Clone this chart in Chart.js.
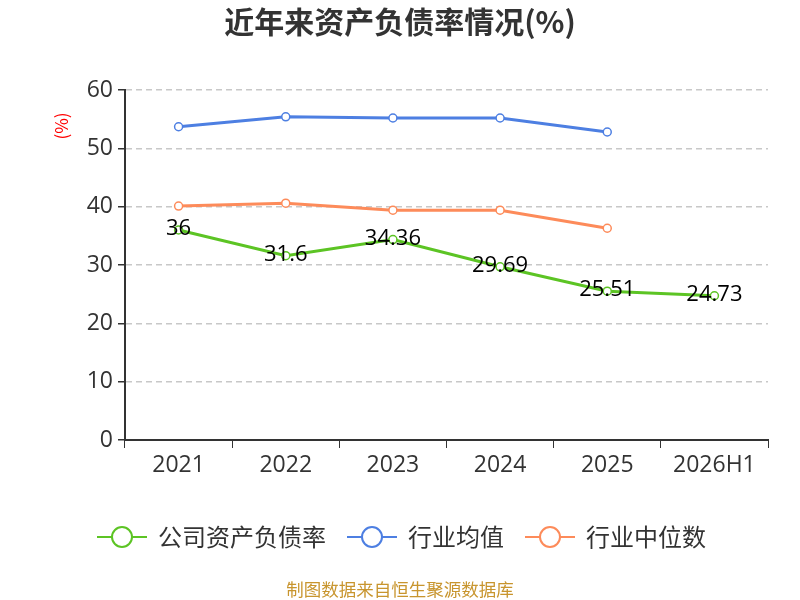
<!DOCTYPE html>
<html>
<head>
<meta charset="utf-8">
<script src="https://cdn.jsdelivr.net/npm/chart.js@4/dist/chart.umd.min.js"></script>
<style>
  html, body { margin: 0; padding: 0; background: #fff; }
  #wrap { width: 800px; height: 600px; }
</style>
</head>
<body>
<div id="wrap"><canvas id="debtChart" width="800" height="600"></canvas></div>
<script>
// data
var years = ["2021", "2022", "2023", "2024", "2025", "2026H1"];
var companyRate = [36, 31.6, 34.36, 29.69, 25.51, 24.73];
var industryAvg = [53.7, 55.4, 55.2, 55.2, 52.8, null];
var industryMedian = [40.1, 40.6, 39.4, 39.4, 36.3, null];
var yTicks = [0, 10, 20, 30, 40, 50, 60];

var FONT = "'Noto Sans CJK SC', 'Noto Sans', sans-serif";
var NUM_FONT = "'Open Sans', 'Noto Sans', sans-serif";

function series(label, data, color) {
  return {
    label: label,
    data: data,
    borderColor: color,
    backgroundColor: "#fff",
    borderWidth: 3,
    pointRadius: 4,
    pointBorderWidth: 1.5,
    pointBackgroundColor: "#fff",
    pointBorderColor: color,
    tension: 0,
    fill: false,
    spanGaps: false,
  };
}

// title, unit, value labels, legend, source
var decorations = {
  id: "decorations",
  afterDatasetsDraw: function (chart) {
    var ctx = chart.ctx;
    ctx.save();

    // value labels on company series
    var meta = chart.getDatasetMeta(0);
    ctx.font = "22px " + NUM_FONT;
    ctx.fillStyle = "#000";
    ctx.textAlign = "center";
    ctx.textBaseline = "middle";
    meta.data.forEach(function (pt, i) {
      ctx.fillText(String(companyRate[i]), pt.x, pt.y - 1);
    });

    // title
    ctx.font = "bold 30px " + FONT;
    ctx.fillStyle = "#333";
    ctx.fillText("近年来资产负债率情况(%)", 400, 22);

    // unit
    ctx.save();
    ctx.translate(62, 126);
    ctx.rotate(-Math.PI / 2);
    ctx.font = "17px " + FONT;
    ctx.fillStyle = "#ff0000";
    ctx.fillText("(%)", 0, 0);
    ctx.restore();

    // legend
    var items = [
      { x: 97, ds: chart.data.datasets[0] },
      { x: 347, ds: chart.data.datasets[1] },
      { x: 525, ds: chart.data.datasets[2] },
    ];
    ctx.font = "24px " + FONT;
    ctx.textAlign = "left";
    items.forEach(function (it) {
      var y = 537;
      ctx.strokeStyle = it.ds.borderColor;
      ctx.lineWidth = 2;
      ctx.beginPath();
      ctx.moveTo(it.x, y);
      ctx.lineTo(it.x + 50, y);
      ctx.stroke();
      ctx.beginPath();
      ctx.arc(it.x + 25, y, 10, 0, Math.PI * 2);
      ctx.fillStyle = "#fff";
      ctx.fill();
      ctx.stroke();
      ctx.fillStyle = "#333";
      ctx.fillText(it.ds.label, it.x + 61, y);
    });

    // source
    ctx.textAlign = "center";
    ctx.font = "17.5px " + FONT;
    ctx.fillStyle = "#c8952e";
    ctx.fillText("制图数据来自恒生聚源数据库", 400, 589);

    ctx.restore();
  },
};

var ctx = document.getElementById("debtChart");
var myChart = new Chart(ctx, {
  type: "line",
  data: {
    labels: years,
    datasets: [
      series("公司资产负债率", companyRate, "#5cc424"),
      series("行业均值", industryAvg, "#4d7fe2"),
      series("行业中位数", industryMedian, "#fd8b5a"),
    ],
  },
  options: {
    responsive: false,
    animation: false,
    layout: { padding: { top: 90, right: 32, left: 0, bottom: 0 } },
    scales: {
      x: {
        offset: true,
        afterFit: function (scale) { scale.height = 160; },
        grid: {
          offset: true,
          drawOnChartArea: false,
          drawTicks: true,
          tickLength: 8,
          color: "#333",
        },
        border: { color: "#333", width: 2 },
        ticks: {
          color: "#333",
          font: { size: 23, family: NUM_FONT },
          padding: 4,
        },
      },
      y: {
        min: 0,
        max: 60,
        afterFit: function (scale) { scale.width = 125; },
        afterBuildTicks: function (scale) {
          scale.ticks = yTicks.map(function (v) { return { value: v }; });
        },
        grid: {
          color: "#c8c8c8",
          lineWidth: 1.5,
          drawTicks: true,
          tickLength: 7,
          tickColor: "#333",
          tickBorderDash: [],
        },
        border: { color: "#333", width: 2, dash: [6, 4] },
        ticks: {
          color: "#333",
          font: { size: 23, family: NUM_FONT },
          padding: 5,
        },
      },
    },
    plugins: {
      legend: { display: false },
      title: { display: false },
      tooltip: { enabled: false },
    },
  },
  plugins: [decorations],
});
</script>
</body>
</html>
